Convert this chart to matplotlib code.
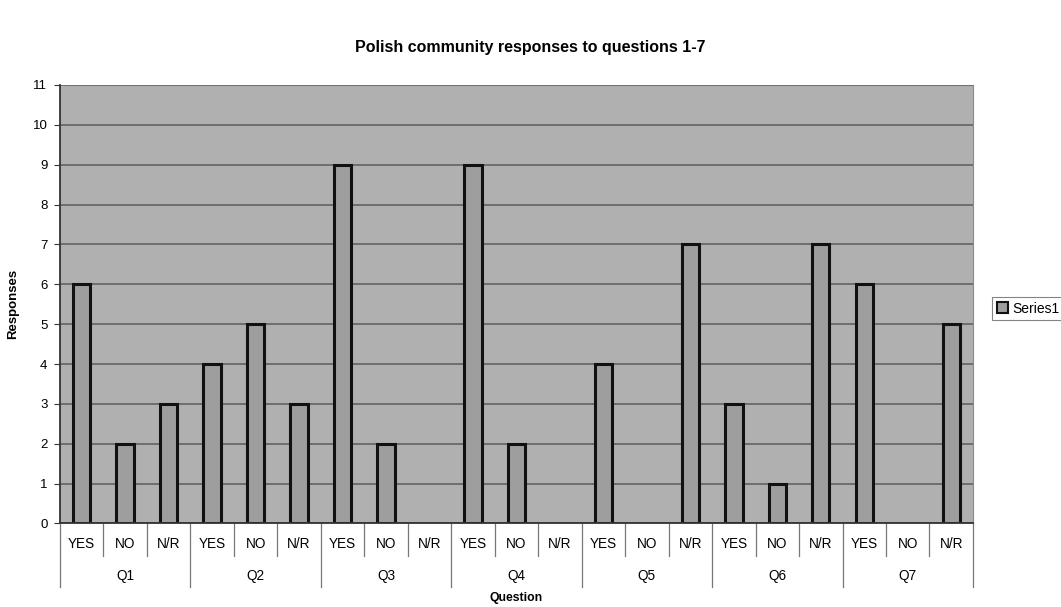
import matplotlib.pyplot as plt
import matplotlib.transforms as mtransforms
import numpy as np

questions = ['Q1', 'Q2', 'Q3', 'Q4', 'Q5', 'Q6', 'Q7']
answers = ['YES', 'NO', 'N/R']
responses = [
    [6, 2, 3],
    [4, 5, 3],
    [9, 2, 0],
    [9, 2, 0],
    [4, 0, 7],
    [3, 1, 7],
    [6, 0, 5],
]
y_ticks = list(range(0, 12))

plt.rcParams['font.family'] = ['Liberation Sans', 'DejaVu Sans']

fig = plt.figure(figsize=(10.61, 6.07), dpi=100)
ax = fig.add_axes([0.0565, 0.1376, 0.8605, 0.7224])
ax.set_facecolor('#b0b0b0')

values = [v for group in responses for v in group]
labels = [a for _ in questions for a in answers]
x = np.arange(len(values)) + 0.5

ax.set_axisbelow(True)
ax.yaxis.grid(True, color='#626262', linewidth=1.2)
bars = ax.bar(x, values, width=0.4, color='#9e9e9e', edgecolor='#111111',
              linewidth=2.2, label='Series1')
for b, v in zip(bars, values):
    if v == 0:
        b.set_visible(False)

ax.set_xlim(0, len(values))
ax.set_ylim(0, 11)
ax.set_yticks(y_ticks)
ax.tick_params(axis='y', labelsize=9.5, length=4, color='#333333', pad=5)
ax.set_xticks([])

ax.spines['top'].set_visible(False)
ax.spines['right'].set_color('#8a8a8a')
ax.spines['left'].set_color('#333333')
ax.spines['bottom'].set_color('#333333')
ax.spines['left'].set_linewidth(1.3)
ax.spines['bottom'].set_linewidth(1.3)

# two-level category axis drawn below the plot area
trans = mtransforms.blended_transform_factory(ax.transData, ax.transAxes)
for i in range(len(values) + 1):
    low = -0.146 if i % 3 == 0 else -0.074
    ax.plot([i, i], [0, low], transform=trans, color='#777777',
            linewidth=0.9, clip_on=False)
for i, lbl in enumerate(labels):
    ax.text(i + 0.5, -0.046, lbl, transform=trans, ha='center', va='center',
            fontsize=9.8)
for j, q in enumerate(questions):
    ax.text(j * 3 + 1.5, -0.12, q, transform=trans, ha='center', va='center',
            fontsize=9.8)

ax.text(0.5, -0.17, 'Question', transform=ax.transAxes, ha='center',
        va='center', fontsize=8.8, fontweight='bold')
ax.set_ylabel('Responses', fontsize=9.5, fontweight='bold', labelpad=10)

fig.text(0.5, 0.921, 'Polish community responses to questions 1-7',
         ha='center', va='center', fontsize=11.5, fontweight='bold')

leg = ax.legend(loc='center left', bbox_to_anchor=(1.021, 0.49), fontsize=10,
                frameon=True, fancybox=False, handlelength=0.8,
                handleheight=0.8, handletextpad=0.3, borderpad=0.35,
                borderaxespad=0)
leg.get_frame().set_edgecolor('#666666')
leg.get_frame().set_linewidth(0.8)
for h in leg.legend_handles:
    h.set_linewidth(1.5)

fig.savefig('out.png', dpi=100)
